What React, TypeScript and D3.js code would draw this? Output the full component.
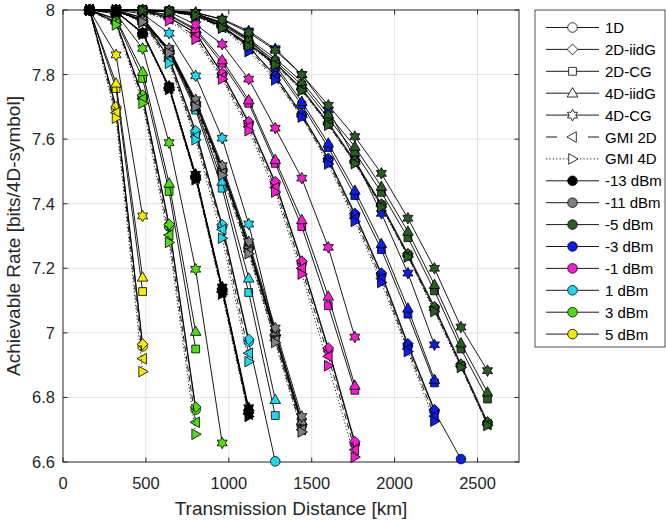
import React from 'react';
import * as d3 from 'd3';

// ---------------- data ----------------
const distances = [160, 320, 480, 640, 800, 960, 1120, 1280, 1440, 1600, 1760, 1920, 2080, 2240, 2400, 2560];
const schemes = ['1D', '2D-iidG', '2D-CG', '4D-iidG', '4D-CG', 'GMI 2D', 'GMI 4D'];
const schemeMarkers = ['circle', 'diamond', 'square', 'triUp', 'hexagram', 'triLeft', 'triRight'];
const powerLabels = ['-13 dBm', '-11 dBm', '-5 dBm', '-3 dBm', '-1 dBm', '1 dBm', '3 dBm', '5 dBm'];
const powerColors = ['#000000', '#7f7f7f', '#285c20', '#0a1ee8', '#f51ccc', '#1ed8ee', '#4fdc12', '#f4ec00'];
const xTicks = [0, 500, 1000, 1500, 2000, 2500];
const yTicks = [6.6, 6.8, 7, 7.2, 7.4, 7.6, 7.8, 8];

// rows: 1D, 2D-iidG, 2D-CG, 4D-iidG, 4D-CG, GMI 2D, GMI 4D  (values at 160 km, 320 km, ...)
const rateM13 = [
  [8.0, 7.995, 7.928, 7.760, 7.484, 7.133, 6.756],
  [8.0, 7.995, 7.929, 7.761, 7.486, 7.136, 6.760],
  [8.0, 7.995, 7.929, 7.762, 7.487, 7.137, 6.761],
  [8.0, 7.995, 7.929, 7.762, 7.488, 7.138, 6.762],
  [8.0, 7.996, 7.930, 7.764, 7.491, 7.142, 6.768],
  [8.0, 7.995, 7.927, 7.757, 7.479, 7.126, 6.748],
  [8.0, 7.994, 7.925, 7.754, 7.474, 7.120, 6.741],
];
const rateM11 = [
  [8.0, 7.998, 7.966, 7.874, 7.711, 7.502, 7.262, 6.989, 6.712],
  [8.0, 7.998, 7.967, 7.875, 7.713, 7.505, 7.266, 6.994, 6.717],
  [8.0, 7.998, 7.967, 7.876, 7.715, 7.508, 7.270, 7.000, 6.724],
  [8.0, 7.998, 7.967, 7.877, 7.716, 7.510, 7.272, 7.003, 6.727],
  [8.0, 7.999, 7.969, 7.881, 7.722, 7.518, 7.282, 7.015, 6.741],
  [8.0, 7.998, 7.965, 7.870, 7.705, 7.494, 7.252, 6.977, 6.700],
  [8.0, 7.997, 7.963, 7.867, 7.700, 7.488, 7.245, 6.970, 6.693],
];
const rateM5 = [
  [8.0, 8.0, 7.999, 7.995, 7.985, 7.948, 7.893, 7.835, 7.755, 7.648, 7.530, 7.395, 7.240, 7.076, 6.898, 6.718],
  [8.0, 8.0, 7.999, 7.995, 7.985, 7.949, 7.895, 7.837, 7.757, 7.651, 7.534, 7.399, 7.245, 7.081, 6.903, 6.724],
  [8.0, 8.0, 7.999, 7.996, 7.988, 7.954, 7.904, 7.842, 7.768, 7.665, 7.560, 7.435, 7.295, 7.130, 6.950, 6.795],
  [8.0, 8.0, 7.999, 7.997, 7.990, 7.958, 7.910, 7.850, 7.778, 7.677, 7.577, 7.453, 7.314, 7.149, 6.968, 6.816],
  [8.0, 8.0, 8.0, 7.998, 7.992, 7.970, 7.930, 7.875, 7.800, 7.705, 7.608, 7.494, 7.355, 7.200, 7.018, 6.883],
  [8.0, 8.0, 7.999, 7.995, 7.984, 7.946, 7.891, 7.832, 7.753, 7.646, 7.527, 7.393, 7.238, 7.070, 6.896, 6.716],
  [8.0, 8.0, 7.999, 7.994, 7.983, 7.944, 7.888, 7.830, 7.750, 7.643, 7.524, 7.390, 7.235, 7.066, 6.893, 6.713],
];
const rateM3 = [
  [8.0, 8.0, 7.999, 7.996, 7.984, 7.950, 7.885, 7.795, 7.675, 7.536, 7.365, 7.180, 6.960, 6.757, 6.609],
  [8.0, 8.0, 7.999, 7.996, 7.984, 7.951, 7.887, 7.797, 7.678, 7.540, 7.370, 7.185, 6.966, 6.762],
  [8.0, 8.0, 8.0, 7.997, 7.987, 7.959, 7.907, 7.822, 7.706, 7.574, 7.425, 7.258, 7.058, 6.845],
  [8.0, 8.0, 8.0, 7.997, 7.988, 7.962, 7.912, 7.830, 7.716, 7.587, 7.441, 7.276, 7.076, 6.855],
  [8.0, 8.0, 8.0, 7.998, 7.992, 7.972, 7.935, 7.880, 7.800, 7.690, 7.540, 7.370, 7.185, 6.963],
  [8.0, 8.0, 7.999, 7.995, 7.982, 7.947, 7.880, 7.789, 7.670, 7.530, 7.355, 7.168, 6.950, 6.742],
  [8.0, 8.0, 7.999, 7.995, 7.981, 7.944, 7.871, 7.783, 7.668, 7.523, 7.345, 7.156, 6.942, 6.726],
];
const rateM1 = [
  [8.0, 8.0, 7.997, 7.976, 7.928, 7.801, 7.649, 7.463, 7.216, 6.947, 6.656],
  [8.0, 8.0, 7.997, 7.977, 7.930, 7.804, 7.654, 7.468, 7.222, 6.953, 6.663],
  [8.0, 8.0, 7.998, 7.983, 7.937, 7.835, 7.711, 7.525, 7.329, 7.084, 6.822],
  [8.0, 8.0, 7.998, 7.985, 7.942, 7.845, 7.721, 7.536, 7.350, 7.113, 6.837],
  [8.0, 8.0, 8.0, 7.994, 7.955, 7.894, 7.786, 7.634, 7.479, 7.265, 6.987],
  [8.0, 8.0, 7.996, 7.972, 7.918, 7.792, 7.638, 7.450, 7.200, 6.927, 6.638],
  [8.0, 8.0, 7.995, 7.967, 7.909, 7.786, 7.626, 7.436, 7.182, 6.898, 6.615],
];
const rateP1 = [
  [8.0, 7.998, 7.968, 7.850, 7.620, 7.329, 6.973, 6.602],
  [8.0, 7.998, 7.969, 7.853, 7.626, 7.335, 6.980],
  [8.0, 7.999, 7.975, 7.868, 7.690, 7.448, 7.125, 6.744],
  [8.0, 7.999, 7.977, 7.875, 7.700, 7.469, 7.169, 6.793],
  [8.0, 8.0, 7.988, 7.928, 7.796, 7.603, 7.337, 7.000],
  [8.0, 7.998, 7.965, 7.842, 7.608, 7.320, 6.937],
  [8.0, 7.997, 7.962, 7.835, 7.598, 7.293, 6.911],
];
const rateP3 = [
  [8.0, 7.962, 7.732, 7.329, 6.762],
  [8.0, 7.963, 7.736, 7.336, 6.770],
  [8.0, 7.970, 7.788, 7.438, 6.950],
  [8.0, 7.973, 7.809, 7.463, 7.004],
  [8.0, 7.988, 7.881, 7.589, 7.197, 6.659],
  [8.0, 7.958, 7.725, 7.303, 6.723],
  [8.0, 7.954, 7.711, 7.280, 6.686],
];
const rateP5 = [
  [8.0, 7.696, 6.958],
  [8.0, 7.700, 6.965],
  [8.0, 7.757, 7.128],
  [8.0, 7.773, 7.172],
  [8.0, 7.861, 7.362],
  [8.0, 7.682, 6.920],
  [8.0, 7.665, 6.880],
];
const ratesByPower = [rateM13, rateM11, rateM5, rateM3, rateM1, rateP1, rateP3, rateP5];

// ---------------- layout ----------------
const W = 666;
const H = 523;
const plot = { left: 63, right: 519, top: 10, bottom: 462 };
const AX = '#262626';
const FONT = "'Liberation Sans', Arial, Helvetica, sans-serif";

function markerPath(type: string): string {
  switch (type) {
    case 'circle': {
      const r = 4.8;
      return `M${r},0A${r},${r} 0 1,1 ${-r},0A${r},${r} 0 1,1 ${r},0Z`;
    }
    case 'square': {
      const h = 3.9;
      return `M${-h},${-h}L${h},${-h}L${h},${h}L${-h},${h}Z`;
    }
    case 'diamond': {
      const h = 5.4;
      return `M0,${-h}L${h},0L0,${h}L${-h},0Z`;
    }
    case 'triUp':
      return 'M0,-5.6L5.3,3.8L-5.3,3.8Z';
    case 'triLeft':
      return 'M-5.6,0L3.8,-5.3L3.8,5.3Z';
    case 'triRight':
      return 'M5.6,0L-3.8,-5.3L-3.8,5.3Z';
    case 'hexagram': {
      const R = 5.8;
      const r = R * 0.56;
      const pts: string[] = [];
      for (let i = 0; i < 12; i++) {
        const a = -Math.PI / 2 + (i * Math.PI) / 6;
        const rr = i % 2 === 0 ? R : r;
        pts.push(`${(rr * Math.cos(a)).toFixed(2)},${(rr * Math.sin(a)).toFixed(2)}`);
      }
      return 'M' + pts.join('L') + 'Z';
    }
    default:
      return '';
  }
}

function dashFor(s: number): string | undefined {
  if (s === 5) return '6,4';
  if (s === 6) return '1.2,2.2';
  return undefined;
}

export default function App() {
  const x = d3.scaleLinear().domain([0, 2750]).range([plot.left, plot.right]);
  const y = d3.scaleLinear().domain([6.6, 8]).range([plot.bottom, plot.top]);
  const line = d3
    .line<[number, number]>()
    .x((d) => x(d[0]))
    .y((d) => y(d[1]));

  const drawOrder = [7, 6, 5, 4, 3, 2, 1, 0];
  const series: React.ReactNode[] = [];
  drawOrder.forEach((p) => {
    ratesByPower[p].forEach((vals, s) => {
      const pts: [number, number][] = vals.map((v, i) => [distances[i], v]);
      series.push(
        <g key={`s-${p}-${s}`}>
          <path d={line(pts) || ''} fill="none" stroke="#000" strokeWidth={0.9} strokeDasharray={dashFor(s)} />
          {pts.map((d, i) => (
            <path
              key={i}
              d={markerPath(schemeMarkers[s])}
              transform={`translate(${x(d[0])},${y(d[1])})`}
              fill={powerColors[p]}
              stroke="#000"
              strokeWidth={0.8}
            />
          ))}
        </g>
      );
    });
  });

  const legX0 = 535;
  const legY0 = 10;
  const legW = 130;
  const legH = 337;
  const rowY = (i: number) => 27.5 + i * 21.9;
  const lineA = 546;
  const lineB = 599;
  const mX = 572.5;
  const textX = 605;

  return (
    <svg width={W} height={H} style={{ position: 'absolute', left: 0, top: 0, background: '#fff' }} fontFamily={FONT}>
      <rect x={0} y={0} width={W} height={H} fill="#fff" />
      {/* grid */}
      {xTicks.filter((t) => t > 0).map((t) => (
        <line key={`gx${t}`} x1={x(t)} x2={x(t)} y1={plot.top} y2={plot.bottom} stroke="#e3e3e3" strokeWidth={1} />
      ))}
      {yTicks.filter((t) => t > 6.6 && t < 8).map((t) => (
        <line key={`gy${t}`} x1={plot.left} x2={plot.right} y1={y(t)} y2={y(t)} stroke="#e3e3e3" strokeWidth={1} />
      ))}
      {/* ticks */}
      {xTicks.map((t) => (
        <g key={`tx${t}`}>
          <line x1={x(t)} x2={x(t)} y1={plot.bottom} y2={plot.bottom - 4.5} stroke={AX} strokeWidth={1} />
          <line x1={x(t)} x2={x(t)} y1={plot.top} y2={plot.top + 4.5} stroke={AX} strokeWidth={1} />
          <text x={x(t)} y={489} textAnchor="middle" fontSize={16.5} fill={AX}>
            {t}
          </text>
        </g>
      ))}
      {yTicks.map((t) => (
        <g key={`ty${t}`}>
          <line x1={plot.left} x2={plot.left + 4.5} y1={y(t)} y2={y(t)} stroke={AX} strokeWidth={1} />
          <line x1={plot.right} x2={plot.right - 4.5} y1={y(t)} y2={y(t)} stroke={AX} strokeWidth={1} />
          <text x={55} y={y(t) + 6} textAnchor="end" fontSize={16.5} fill={AX}>
            {String(Math.round(t * 10) / 10)}
          </text>
        </g>
      ))}
      {/* axes box */}
      <rect
        x={plot.left}
        y={plot.top}
        width={plot.right - plot.left}
        height={plot.bottom - plot.top}
        fill="none"
        stroke={AX}
        strokeWidth={1}
      />
      {/* data */}
      {series}
      {/* axis labels */}
      <text x={(plot.left + plot.right) / 2} y={515} textAnchor="middle" fontSize={19} fill={AX}>
        Transmission Distance [km]
      </text>
      <text
        transform={`translate(20,${(plot.top + plot.bottom) / 2}) rotate(-90)`}
        textAnchor="middle"
        fontSize={19}
        fill={AX}
      >
        Achievable Rate [bits/4D-symbol]
      </text>
      {/* legend */}
      <rect x={legX0} y={legY0} width={legW} height={legH} fill="#fff" stroke={AX} strokeWidth={0.8} />
      {schemes.map((name, s) => {
        const yy = rowY(s);
        return (
          <g key={`ls${s}`}>
            {s === 5 ? (
              <>
                <line x1={lineA} x2={lineA + 11} y1={yy} y2={yy} stroke="#000" strokeWidth={0.9} />
                <line x1={lineB - 11} x2={lineB} y1={yy} y2={yy} stroke="#000" strokeWidth={0.9} />
              </>
            ) : (
              <line x1={lineA} x2={lineB} y1={yy} y2={yy} stroke="#000" strokeWidth={0.9} strokeDasharray={dashFor(s)} />
            )}
            <path d={markerPath(schemeMarkers[s])} transform={`translate(${mX},${yy})`} fill="#fff" stroke="#000" strokeWidth={0.8} />
            <text x={textX} y={yy + 5.5} fontSize={15} fill="#000">
              {name}
            </text>
          </g>
        );
      })}
      {powerLabels.map((name, p) => {
        const yy = rowY(p + schemes.length);
        return (
          <g key={`lp${p}`}>
            <line x1={lineA} x2={lineB} y1={yy} y2={yy} stroke="#000" strokeWidth={0.9} />
            <path d={markerPath('circle')} transform={`translate(${mX},${yy})`} fill={powerColors[p]} stroke="#000" strokeWidth={0.8} />
            <text x={textX} y={yy + 5.5} fontSize={15} fill="#000">
              {name}
            </text>
          </g>
        );
      })}
    </svg>
  );
}
